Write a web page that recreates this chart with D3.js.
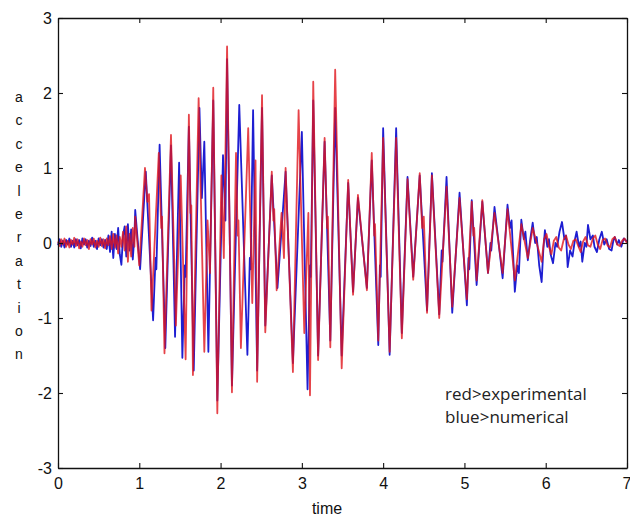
<!DOCTYPE html>
<html>
<head>
<meta charset="utf-8">
<script src="https://cdn.jsdelivr.net/npm/d3@7"></script>
<style>
  html, body { margin: 0; padding: 0; background: #fff; }
  svg { display: block; }
</style>
</head>
<body>
<svg id="chart" width="630" height="517"></svg>
<script>
// ---- data ----
const xTicks = [0, 1, 2, 3, 4, 5, 6, 7];
const yTicks = [-3, -2, -1, 0, 1, 2, 3];
const xLabel = "time";
const yLabel = "acceleration";
const legendLines = ["red>experimental", "blue>numerical"];

// experimental (red): [time, acceleration]
const redSeries = [
  [0.00,0.02],[0.02,-0.04],[0.04,0.05],[0.06,-0.02],[0.08,0.06],[0.10,-0.05],[0.12,0.03],[0.14,-0.06],
  [0.16,0.04],[0.18,-0.02],[0.20,0.07],[0.22,-0.04],[0.24,0.05],[0.26,-0.07],[0.28,0.02],[0.30,-0.05],
  [0.32,0.06],[0.34,-0.03],[0.36,0.04],[0.38,-0.08],[0.40,0.05],[0.42,-0.02],[0.44,0.06],[0.46,-0.06],
  [0.48,0.03],[0.50,-0.05],[0.52,0.07],[0.54,-0.04],[0.56,0.05],[0.58,-0.07],[0.60,0.06],[0.62,-0.03],
  [0.64,0.09],[0.66,-0.08],[0.68,0.12],[0.70,-0.06],[0.72,0.10],[0.74,-0.14],[0.76,0.08],[0.78,-0.05],
  [0.80,0.15],[0.82,-0.10],[0.84,0.22],[0.86,-0.25],[0.88,0.12],[0.90,-0.18],[0.92,0.20],[0.94,-0.05],
  [0.95,0.35],[1.00,-0.30],[1.07,1.00],[1.10,0.55],[1.12,0.65],[1.15,-0.90],[1.24,1.20],[1.27,0.20],
  [1.28,0.35],[1.31,-1.47],[1.39,1.44],[1.45,-1.10],[1.51,0.90],[1.57,-1.55],[1.61,1.71],[1.63,0.40],
  [1.64,0.50],[1.66,-1.76],[1.73,1.93],[1.80,-1.45],[1.84,0.30],[1.87,-0.40],[1.91,2.07],[1.96,-2.27],
  [2.01,0.90],[2.04,-0.20],[2.08,2.62],[2.14,-1.99],[2.19,1.20],[2.21,0.10],[2.22,0.30],[2.25,-1.40],
  [2.34,1.53],[2.39,-0.80],[2.43,1.10],[2.45,-1.85],[2.51,1.97],[2.55,-1.19],[2.63,0.95],[2.65,0.30],
  [2.66,0.45],[2.69,-0.63],[2.75,0.40],[2.78,-0.20],[2.80,1.00],[2.89,-1.72],[2.96,1.77],[3.03,-1.20],
  [3.08,0.40],[3.10,-2.03],[3.14,2.15],[3.20,-1.56],[3.28,1.40],[3.31,0.20],[3.32,0.35],[3.35,-1.39],
  [3.41,2.31],[3.49,-1.67],[3.57,0.84],[3.63,-0.69],[3.69,0.64],[3.80,-0.63],[3.86,1.20],[3.89,0.10],
  [3.90,0.25],[3.94,-1.30],[4.00,1.40],[4.08,-1.45],[4.16,1.40],[4.23,-1.27],[4.30,0.85],[4.37,-0.49],
  [4.45,0.93],[4.48,0.20],[4.50,0.35],[4.54,-0.93],[4.60,0.90],[4.69,-1.00],[4.78,0.75],[4.85,-0.85],
  [4.94,0.60],[5.03,-0.75],[5.09,0.55],[5.11,0.10],[5.12,0.20],[5.15,-0.50],[5.22,0.57],[5.29,-0.40],
  [5.37,0.40],[5.47,-0.40],[5.53,0.45],[5.62,-0.50],[5.70,0.25],[5.78,-0.20],[5.84,0.20],[5.95,-0.25],
  [5.98,0.05],[6.01,0.12],[6.04,-0.05],[6.07,-0.15],[6.10,0.03],[6.13,0.08],[6.16,-0.06],[6.19,-0.10],
  [6.22,0.04],[6.25,0.10],[6.28,-0.02],[6.31,-0.08],[6.34,0.03],[6.37,0.05],[6.40,-0.04],[6.43,-0.12],
  [6.46,0.02],[6.49,0.08],[6.52,-0.03],[6.55,-0.05],[6.58,0.06],[6.61,0.10],[6.64,-0.02],[6.67,-0.08],
  [6.70,0.04],[6.73,0.06],[6.76,-0.03],[6.79,-0.06],[6.82,0.05],[6.85,0.08],[6.88,-0.02],[6.91,-0.04],
  [6.94,0.03],[6.97,0.06],[7.00,0.00]
];

// numerical (blue): [time, acceleration]
const blueSeries = [
  [0.00,-0.03],[0.02,0.05],[0.04,-0.05],[0.06,0.03],[0.08,-0.06],[0.10,0.04],[0.12,-0.02],[0.14,0.06],
  [0.16,-0.05],[0.18,0.03],[0.20,-0.06],[0.22,0.05],[0.24,-0.03],[0.26,0.04],[0.28,-0.07],[0.30,0.06],
  [0.32,-0.02],[0.34,0.05],[0.36,-0.06],[0.38,0.03],[0.40,-0.04],[0.42,0.07],[0.44,-0.05],[0.46,0.03],
  [0.48,-0.08],[0.50,0.06],[0.52,-0.03],[0.54,0.05],[0.56,-0.06],[0.58,0.04],[0.60,-0.08],[0.62,0.10],
  [0.64,-0.12],[0.66,0.15],[0.68,-0.20],[0.70,0.12],[0.72,-0.08],[0.74,0.20],[0.76,-0.15],[0.78,-0.29],
  [0.80,0.10],[0.82,0.22],[0.84,-0.18],[0.86,0.25],[0.88,-0.10],[0.90,0.18],[0.92,-0.22],[0.94,0.10],
  [0.95,0.44],[1.01,-0.35],[1.08,0.95],[1.17,-1.03],[1.20,-0.20],[1.21,-0.35],[1.25,1.31],[1.32,-1.40],
  [1.39,1.30],[1.44,-1.25],[1.49,1.07],[1.53,-1.53],[1.56,-0.30],[1.57,-0.45],[1.61,1.55],[1.67,-1.70],
  [1.74,1.80],[1.77,0.60],[1.80,1.35],[1.85,-1.45],[1.91,1.90],[1.96,-2.10],[2.03,1.17],[2.06,0.30],
  [2.08,2.45],[2.14,-1.90],[2.23,1.84],[2.33,-1.49],[2.36,-0.20],[2.37,-0.35],[2.40,1.77],[2.45,-1.70],
  [2.51,1.80],[2.55,-1.10],[2.63,0.90],[2.70,-0.60],[2.80,0.95],[2.89,-1.60],[3.00,1.48],[3.07,-1.95],
  [3.10,-0.30],[3.11,-0.45],[3.14,1.90],[3.20,-1.50],[3.28,1.35],[3.35,-1.30],[3.41,1.80],[3.49,-1.50],
  [3.57,0.80],[3.63,-0.65],[3.69,0.60],[3.80,-0.60],[3.86,1.10],[3.94,-1.36],[3.96,-0.30],[3.97,-0.45],
  [4.00,1.53],[4.08,-1.49],[4.16,1.53],[4.23,-1.20],[4.30,0.88],[4.37,-0.45],[4.45,0.90],[4.54,-0.90],
  [4.60,0.93],[4.69,-0.95],[4.72,-0.10],[4.73,-0.25],[4.78,0.88],[4.85,-0.93],[4.94,0.67],[5.03,-0.83],
  [5.05,-0.20],[5.06,-0.35],[5.09,0.57],[5.15,-0.56],[5.22,0.55],[5.29,-0.40],[5.32,0.00],[5.33,-0.10],
  [5.37,0.48],[5.47,-0.47],[5.53,0.51],[5.56,0.20],[5.58,0.30],[5.62,-0.65],[5.65,-0.30],[5.67,-0.40],
  [5.70,0.31],[5.73,0.05],[5.75,0.15],[5.78,-0.23],[5.81,0.05],[5.84,0.27],[5.87,0.00],[5.89,0.08],
  [5.92,-0.30],[5.95,-0.52],[5.97,-0.10],[5.99,0.17],[6.02,-0.05],[6.04,0.05],[6.06,-0.15],[6.09,-0.27],
  [6.12,0.00],[6.14,-0.05],[6.17,0.15],[6.20,0.28],[6.23,0.05],[6.25,0.10],[6.27,-0.32],[6.30,-0.10],
  [6.33,-0.18],[6.36,0.05],[6.38,0.15],[6.41,-0.05],[6.43,0.02],[6.45,-0.25],[6.48,0.00],[6.50,-0.05],
  [6.52,0.24],[6.55,0.05],[6.58,0.10],[6.60,-0.05],[6.63,-0.12],[6.66,0.05],[6.69,0.15],[6.72,-0.02],
  [6.75,0.05],[6.78,-0.08],[6.81,-0.10],[6.83,0.02],[6.85,0.08],[6.88,-0.02],[6.90,0.04],[6.93,-0.05],
  [6.96,0.06],[7.00,0.02]
];

// ---- layout ----
const svg = d3.select("#chart");
const plotL = 58, plotR = 627, plotT = 18, plotB = 468;

const x = d3.scaleLinear().domain([0, 7]).range([plotL, plotR]);
const y = d3.scaleLinear().domain([-3, 3]).range([plotB, plotT]);

const tickFont = "'Liberation Sans', Arial, sans-serif";

// series
const line = d3.line().x(d => x(d[0])).y(d => y(d[1]));
svg.append("path").datum(blueSeries)
  .attr("d", line).attr("fill", "none")
  .attr("stroke", "#1e1ed2").attr("stroke-width", 1.8).attr("stroke-linejoin", "round");
svg.append("path").datum(redSeries)
  .attr("d", line).attr("fill", "none")
  .attr("stroke", "#e0141c").attr("stroke-width", 1.8).attr("stroke-opacity", 0.8)
  .attr("stroke-linejoin", "round");

// axes (matlab-like box with inward ticks)
const fmt = d => String(d);
const axB = d3.axisBottom(x).tickValues(xTicks).tickFormat(fmt).tickSizeInner(-5).tickSizeOuter(0).tickPadding(10);
const axL = d3.axisLeft(y).tickValues(yTicks).tickFormat(fmt).tickSizeInner(-5).tickSizeOuter(0).tickPadding(6);
const axT = d3.axisTop(x).tickValues(xTicks).tickSizeInner(-5).tickSizeOuter(0).tickFormat("");
const axR = d3.axisRight(y).tickValues(yTicks).tickSizeInner(-5).tickSizeOuter(0).tickFormat("");

const gB = svg.append("g").attr("transform", `translate(0,${plotB})`).call(axB);
const gL = svg.append("g").attr("transform", `translate(${plotL},0)`).call(axL);
const gT = svg.append("g").attr("transform", `translate(0,${plotT})`).call(axT);
const gR = svg.append("g").attr("transform", `translate(${plotR},0)`).call(axR);

[gB, gL, gT, gR].forEach(g => {
  g.selectAll("path.domain").attr("stroke", "#111").attr("stroke-width", 1.3);
  g.selectAll(".tick line").attr("stroke", "#111").attr("stroke-width", 1.1);
  g.selectAll(".tick text").attr("fill", "#111").style("font-family", tickFont).style("font-size", "16px");
});
// keep the last x tick label inside the picture
gB.selectAll(".tick text").filter(d => d === xTicks[xTicks.length - 1])
  .attr("text-anchor", "end").attr("dx", "4");

// x axis label
svg.append("text").attr("x", 327).attr("y", 514).attr("text-anchor", "middle")
  .style("font-family", tickFont).style("font-size", "16px").attr("fill", "#111").text(xLabel);

// y axis label: stacked letters
const letters = yLabel.split("");
svg.append("g").selectAll("text").data(letters).join("text")
  .attr("x", 19).attr("y", (d, i) => 102 + i * 23.4)
  .attr("text-anchor", "middle")
  .style("font-family", tickFont).style("font-size", "14px").attr("fill", "#111")
  .text(d => d);

// legend text
svg.append("g").selectAll("text").data(legendLines).join("text")
  .attr("x", 445).attr("y", (d, i) => 400 + i * 23)
  .style("font-family", "'Open Sans', sans-serif").style("font-size", "17px").attr("fill", "#222")
  .text(d => d);
</script>
</body>
</html>
